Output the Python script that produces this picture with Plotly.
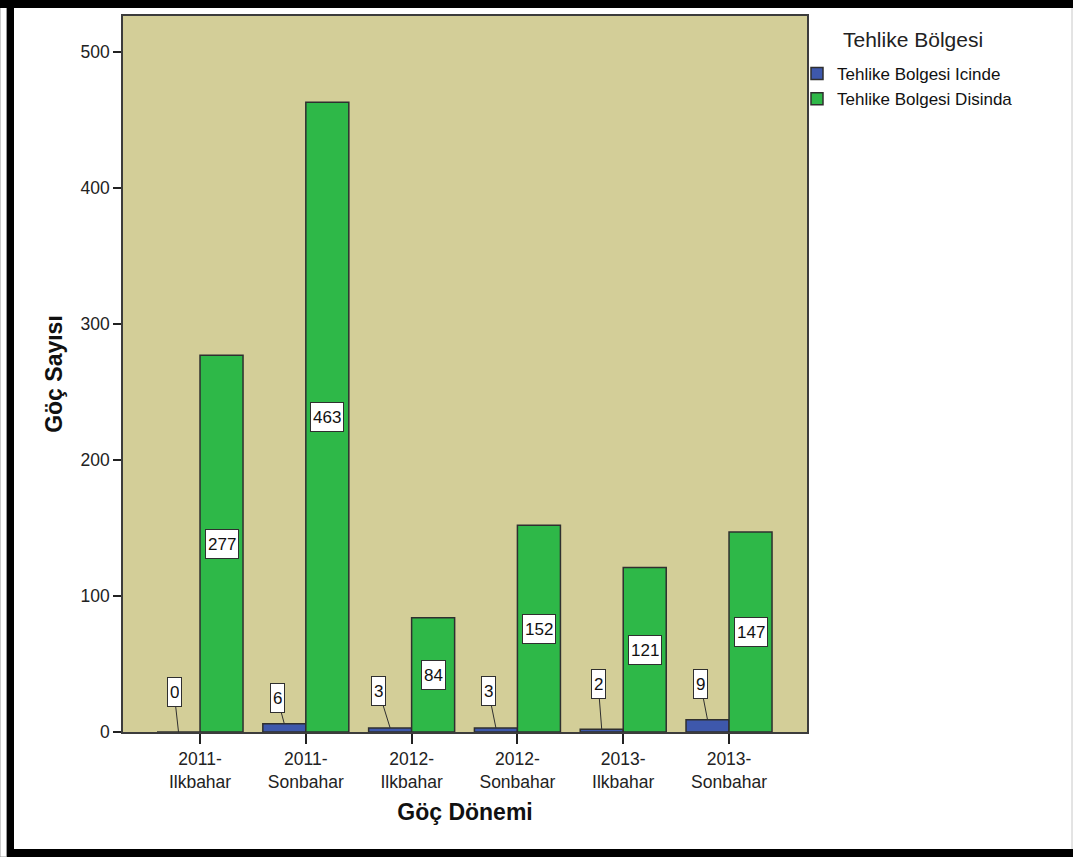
import plotly.graph_objects as go

# --- data -------------------------------------------------------------
periods = [
    "2011-<br>Ilkbahar",
    "2011-<br>Sonbahar",
    "2012-<br>Ilkbahar",
    "2012-<br>Sonbahar",
    "2013-<br>Ilkbahar",
    "2013-<br>Sonbahar",
]
inside_zone = [0, 6, 3, 3, 2, 9]
outside_zone = [277, 463, 84, 152, 121, 147]
series_names = ["Tehlike Bolgesi Icinde", "Tehlike Bolgesi Disinda"]
legend_title = "Tehlike Bölgesi"
y_ticks = [0, 100, 200, 300, 400, 500]

# --- layout geometry ----------------------------------------------------
W, H = 1073, 857
L, R, T, B = 123, 266, 16, 125
BARGAP = 0.187
FONT = "Arial, Liberation Sans, sans-serif"
BLUE = "#3E58AC"
GREEN = "#2EB848"
PLOT_BG = "#D3CE98"
EDGE = "#2f2f2f"

# pixel offsets (text centre relative to bar top) for the small-bar callouts
callout_dx = [-4.5, -7, -11.5, -7.5, -3.5, -7]
callout_dy = [-40.5, -26, -37, -37, -45, -36]


def px_x(p):
    return (p - L) / (W - L - R)


def px_y(p):
    return 1 - (p - T) / (H - T - B)


fig = go.Figure()
fig.add_trace(go.Bar(
    x=periods, y=inside_zone, name=series_names[0],
    marker=dict(color=BLUE, line=dict(color=EDGE, width=1.5)),
))
fig.add_trace(go.Bar(
    x=periods, y=outside_zone, name=series_names[1],
    marker=dict(color=GREEN, line=dict(color=EDGE, width=1.5)),
))

half = (1 - BARGAP) / 4  # offset of each bar centre from the category centre
annotations = []
box = dict(bgcolor="white", bordercolor=EDGE, borderwidth=1, borderpad=2,
           height=24, font=dict(family=FONT, size=17, color="#111"))

for i, v in enumerate(inside_zone):
    annotations.append(dict(
        x=i - half, y=v, xref="x", yref="y", text=str(v),
        showarrow=True, arrowhead=0, arrowwidth=1, arrowcolor=EDGE,
        standoff=0, ax=callout_dx[i], ay=callout_dy[i], **box,
    ))

for i, v in enumerate(outside_zone):
    annotations.append(dict(
        x=i + half, y=v / 2, xref="x", yref="y", text=str(v),
        showarrow=False, **box,
    ))

# legend heading
annotations.append(dict(
    x=px_x(913), y=px_y(40), xref="paper", yref="paper",
    xanchor="center", yanchor="middle", showarrow=False,
    text=legend_title, font=dict(family=FONT, size=21, color="#222"),
))

# window frame around the chart
shapes = [
    dict(type="rect", xref="paper", yref="paper",
         x0=px_x(0), x1=px_x(6.5), y0=px_y(857), y1=px_y(0),
         fillcolor="#ffffff", line=dict(color="#9a9a9a", width=1)),
    dict(type="rect", xref="paper", yref="paper",
         x0=px_x(0), x1=px_x(1073), y0=px_y(8), y1=px_y(0),
         fillcolor="black", line=dict(width=0)),
    dict(type="rect", xref="paper", yref="paper",
         x0=px_x(7), x1=px_x(14), y0=px_y(857), y1=px_y(0),
         fillcolor="black", line=dict(width=0)),
    dict(type="rect", xref="paper", yref="paper",
         x0=px_x(7), x1=px_x(1073), y0=px_y(857), y1=px_y(849),
         fillcolor="black", line=dict(width=0)),
    dict(type="line", xref="paper", yref="paper",
         x0=px_x(1072), x1=px_x(1072), y0=px_y(849), y1=px_y(8),
         line=dict(color="#c8c8c8", width=1)),
]

fig.update_layout(
    width=W, height=H,
    margin=dict(l=L, r=R, t=T, b=B, autoexpand=False),
    paper_bgcolor="white",
    plot_bgcolor=PLOT_BG,
    barmode="group",
    bargap=BARGAP,
    bargroupgap=0,
    font=dict(family=FONT, color="#222"),
    showlegend=True,
    legend=dict(
        x=px_x(797), xanchor="left", y=px_y(56), yanchor="top",
        bgcolor="rgba(0,0,0,0)", borderwidth=0,
        font=dict(family=FONT, size=17, color="#111"),
        tracegroupgap=0, traceorder="normal",
    ),
    xaxis=dict(
        type="category",
        range=[-0.728, 5.737],
        showgrid=False, zeroline=False,
        showline=True, mirror=True, linecolor="#3c3c3c", linewidth=1.5,
        ticks="outside", ticklen=10, tickwidth=1.5, tickcolor="#222",
        tickfont=dict(family=FONT, size=17.5, color="#222"),
        title=dict(text="<b>Göç Dönemi</b>", standoff=13,
                   font=dict(family=FONT, size=23, color="#111")),
        automargin=False,
    ),
    yaxis=dict(
        range=[0, 526.5],
        tickvals=y_ticks,
        showgrid=False, zeroline=False,
        showline=True, mirror=True, linecolor="#3c3c3c", linewidth=1.5,
        ticks="outside", ticklen=8, tickwidth=1.5, tickcolor="#222",
        tickfont=dict(family=FONT, size=17.5, color="#222"),
        title=dict(text="<b>Göç Sayısı</b>", standoff=11,
                   font=dict(family=FONT, size=23, color="#111")),
        automargin=False,
    ),
    annotations=annotations,
    shapes=shapes,
)

fig.write_html("out.html")
